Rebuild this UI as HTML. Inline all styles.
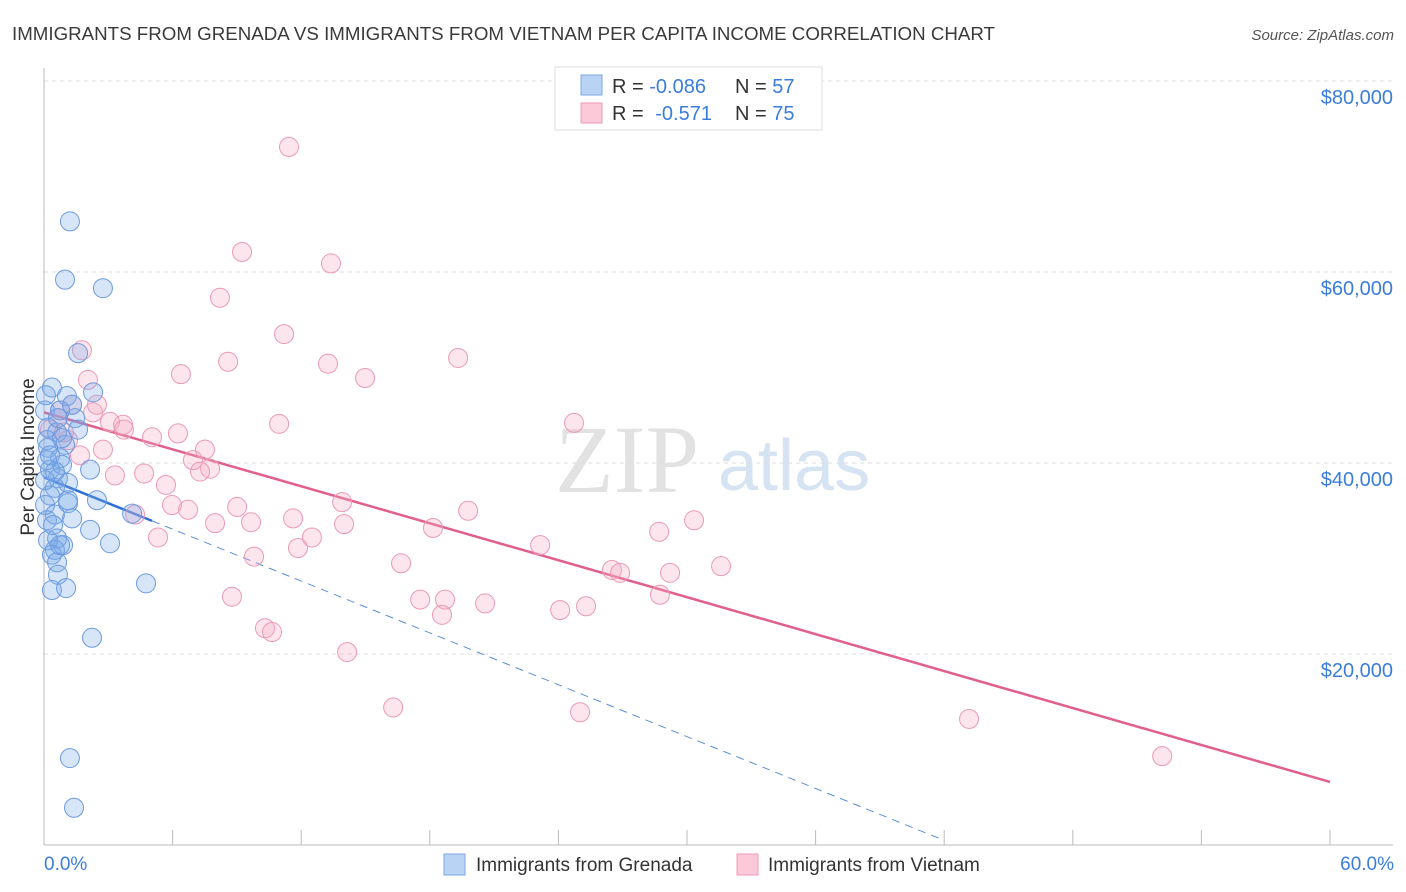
<!DOCTYPE html>
<html><head><meta charset="utf-8">
<style>
body{margin:0;background:#fff;font-family:"Liberation Sans",sans-serif;}
svg{display:block}
</style></head><body>
<svg id="chart" width="1406" height="892" xmlns="http://www.w3.org/2000/svg" font-family="Liberation Sans, sans-serif">
<text x="12" y="40" font-size="18.5" fill="#3a3a3a" textLength="983" lengthAdjust="spacingAndGlyphs">IMMIGRANTS FROM GRENADA VS IMMIGRANTS FROM VIETNAM PER CAPITA INCOME CORRELATION CHART</text>
<text x="1394" y="40" font-size="15" font-style="italic" fill="#555" text-anchor="end">Source: ZipAtlas.com</text>
<g>
<text x="555" y="492" font-size="96" font-family="Liberation Serif, serif" fill="#e2e2e2">ZIP</text>
<text x="718" y="490" font-size="72" fill="#d6e3f3">atlas</text>
</g>
<g id="grid"></g>
<g id="axes"></g>
<g id="trend"></g>
<g id="points"></g>
<text transform="translate(34,457) rotate(-90)" font-size="19" fill="#333" text-anchor="middle">Per Capita Income</text>
<text x="44" y="870" font-size="19" fill="#3b7ddd">0.0%</text>
<text x="1394" y="870" font-size="19" fill="#3b7ddd" text-anchor="end">60.0%</text>
<g>
<rect x="555" y="67" width="267" height="63" fill="#fff" stroke="#ddd"/>
<rect x="581" y="75" width="21" height="20" fill="#b9d3f5" stroke="#7aa7e3"/>
<rect x="581" y="103" width="21" height="20" fill="#fcc9d8" stroke="#ee9ab5"/>
<text x="612" y="93" font-size="20" fill="#333">R = <tspan fill="#3b7ddd">-0.086</tspan><tspan x="735">N = </tspan><tspan fill="#3b7ddd">57</tspan></text>
<text x="612" y="120" font-size="20" fill="#333">R = <tspan fill="#3b7ddd" dx="6">-0.571</tspan><tspan x="735">N = </tspan><tspan fill="#3b7ddd">75</tspan></text>
</g>
<g>
<rect x="444" y="854" width="21" height="21" fill="#b9d3f5" stroke="#7aa7e3"/>
<text x="476" y="871" font-size="19" fill="#333">Immigrants from Grenada</text>
<rect x="737" y="854" width="21" height="21" fill="#fcc9d8" stroke="#ee9ab5"/>
<text x="768" y="871" font-size="19" fill="#333">Immigrants from Vietnam</text>
</g>
</svg>
<script>
const yTicks=[20000,40000,60000,80000];
const yTickLabels=["$20,000","$40,000","$60,000","$80,000"];
const xTicks=[0,6,12,18,24,30,36,42,48,54,60];
const grenadaX=[1.21,0.98,2.75,1.59,0.37,2.29,1.07,0.05,1.45,0.19,0.61,1.59,0.98,0.19,0.75,0.84,2.15,0.28,0.65,1.12,0.51,2.47,1.12,0.05,0.51,1.31,2.15,0.61,0.89,3.08,0.51,0.37,0.61,0.65,4.76,0.37,1.03,2.24,1.21,1.40,4.11,0.19,0.14,0.28,0.75,0.14,1.31,0.51,0.14,0.84,1.12,0.42,0.75,0.05,0.65,0.09,0.28];
const grenadaY=[65.3,59.2,58.3,51.5,47.9,47.4,47.0,45.5,44.7,43.7,43.2,43.5,41.9,41.6,40.5,39.8,39.3,39.3,38.4,37.9,37.4,36.1,35.8,35.6,34.6,34.2,33.0,32.1,31.4,31.6,30.9,30.4,29.6,28.3,27.4,26.7,26.9,21.7,9.1,3.9,34.7,31.9,34.0,36.6,45.5,42.4,46.1,39.1,40.3,42.6,36.1,33.5,31.4,38.2,44.7,47.1,40.8];
const vietnamX=[11.43,9.24,13.39,8.21,11.2,1.77,8.59,13.25,19.32,6.39,14.98,2.05,1.31,2.29,0.65,3.08,3.69,10.97,24.73,5.04,6.25,1.12,7.51,2.75,6.95,7.75,7.28,3.31,4.67,5.69,5.97,9.01,6.72,13.91,19.79,11.62,4.25,7.98,9.66,14.0,18.15,30.33,28.7,5.32,12.5,11.85,23.15,9.8,16.66,26.5,26.88,31.59,29.21,8.77,17.55,18.71,20.58,28.74,25.29,24.08,18.57,10.31,10.64,14.14,16.29,25.01,43.16,52.17,0.75,0.28,2.47,3.73,1.68,0.93];
const vietnamY=[73.1,62.1,60.9,57.3,53.5,51.8,50.6,50.4,51.0,49.3,48.9,48.7,46.1,45.3,44.7,44.3,44.0,44.1,44.2,42.7,43.1,42.4,41.4,41.4,40.3,39.4,39.1,38.7,38.9,37.7,35.6,35.4,35.1,35.9,35.0,34.2,34.6,33.7,33.8,33.6,33.2,34.0,32.8,32.2,32.2,31.1,31.4,30.2,29.5,28.8,28.5,29.2,28.5,26.0,25.7,25.7,25.3,26.2,25.0,24.6,24.1,22.7,22.3,20.2,14.4,13.9,13.2,9.3,45.5,43.5,46.1,43.5,40.8,43.2];
const grenadaTrend=[38500,-905];   // intercept, slope per %
const vietnamTrend=[45300,-645];

const NS="http://www.w3.org/2000/svg";
const X=v=>44+v*(1286/60);
const Y=v=>845-v*(191/20000);
function mk(tag,attrs,parent){const e=document.createElementNS(NS,tag);for(const k in attrs)e.setAttribute(k,attrs[k]);parent.appendChild(e);return e;}
const grid=document.getElementById('grid'),axes=document.getElementById('axes'),trend=document.getElementById('trend'),pts=document.getElementById('points');
yTicks.forEach((t,i)=>{
 const l=mk('line',{x1:44,x2:1393,y1:Y(t),y2:Y(t),stroke:'#ddd','stroke-dasharray':'4,4'},grid);
 
 
 const tx=mk('text',{x:1393,y:Y(t)+23,'font-size':20,fill:'#3b7ddd','text-anchor':'end'},grid);
 tx.textContent=yTickLabels[i];
 
 
});
const la=mk('line',{x1:44,x2:44,y1:68,y2:845,stroke:'#bbb'},axes);


const lb=mk('line',{x1:44,x2:1393,y1:845,y2:845,stroke:'#bbb'},axes);


xTicks.forEach(t=>{
 const l=mk('line',{x1:X(t),x2:X(t),y1:830,y2:845,stroke:'#bbb'},axes);
 
 
});
function dots(xs,ys,fill,stroke,name){
 xs.forEach((x,i)=>{
  const c=mk('circle',{cx:X(x),cy:Y(ys[i]*1000),r:9.5,fill:fill,stroke:stroke,'stroke-width':1},pts);
  
  
 });
}
dots(vietnamX,vietnamY,'rgba(246,170,196,0.3)','#eb9ab5','vietnam-point');
dots(grenadaX,grenadaY,'rgba(120,170,232,0.3)','#6d9be0','grenada-point');
const tv=v=>vietnamTrend[0]+vietnamTrend[1]*v, tg=v=>grenadaTrend[0]+grenadaTrend[1]*v;
const l1=mk('line',{x1:X(0),y1:Y(tv(0)),x2:X(60),y2:Y(tv(60)),stroke:'#e0608b','stroke-width':2.5},trend);


const l2=mk('line',{x1:X(0),y1:Y(tg(0)),x2:X(5.04),y2:Y(tg(5.04)),stroke:'#2a6fd6','stroke-width':2.5},trend);


const l3=mk('line',{x1:X(5.04),y1:Y(tg(5.04)),x2:X(42),y2:Y(tg(42)),stroke:'#5a8fd9','stroke-width':1,'stroke-dasharray':'8,6'},trend);


</script>
</body></html>
